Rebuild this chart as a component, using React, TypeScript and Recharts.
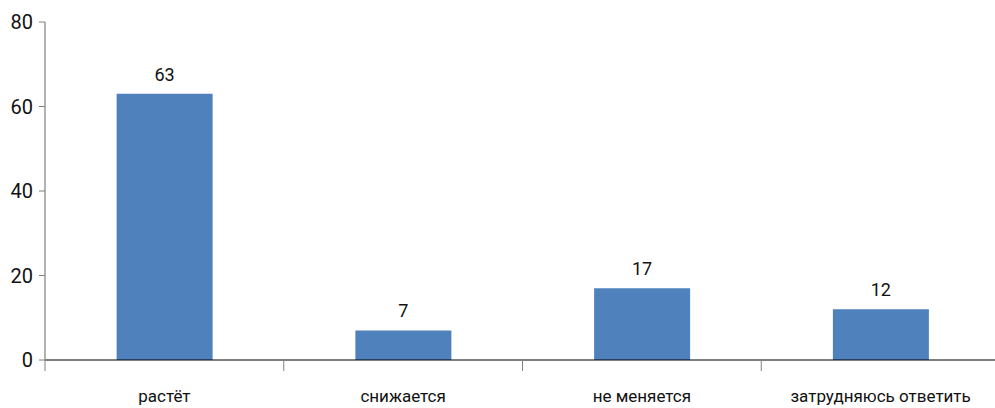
import React from 'react'
import { BarChart, Bar, XAxis, YAxis, LabelList } from 'recharts'

const categories = ['растёт', 'снижается', 'не меняется', 'затрудняюсь ответить']
const values = [63, 7, 17, 12]
const yTicks = [0, 20, 40, 60, 80]

const data = categories.map((name, i) => ({ name, value: values[i] }))

const FONT = 'Roboto, "Noto Sans", sans-serif'

function CategoryTick(props: any) {
  const { x, y, payload, width, visibleTicksCount } = props
  const band = width / (visibleTicksCount || categories.length)
  const left = x - band / 2
  return (
    <g>
      <line x1={left} y1={y - 8} x2={left} y2={y + 3} stroke="#808080" strokeWidth={1} />
      <text x={x} y={y + 34} textAnchor="middle" fill="#111" fontSize={17} fontFamily={FONT}>
        {payload.value}
      </text>
    </g>
  )
}

export default function App() {
  return (
    <div style={{ position: 'absolute', left: 0, top: 0, width: 995, height: 408, overflow: 'hidden', background: '#fff' }}>
      <BarChart
        width={1000}
        height={408}
        data={data}
        margin={{ top: 22, right: 0, bottom: 0, left: 0 }}
        barCategoryGap="30%"
      >
        <XAxis
          dataKey="name"
          axisLine={{ stroke: '#000', strokeWidth: 1.2 }}
          tickLine={false}
          tick={<CategoryTick />}
          interval={0}
          height={48}
        />
        <YAxis
          domain={[0, 80]}
          ticks={yTicks}
          width={45}
          axisLine={{ stroke: '#808080', strokeWidth: 1.2 }}
          tickLine={{ stroke: '#808080' }}
          tickSize={6}
          tick={{ fill: '#111', fontSize: 20, fontFamily: FONT }}
          tickMargin={6}
        />
        <Bar dataKey="value" fill="#4f81bd" isAnimationActive={false}>
          <LabelList
            dataKey="value"
            position="top"
            offset={13}
            fill="#111"
            fontSize={18}
            fontFamily={FONT}
          />
        </Bar>
      </BarChart>
    </div>
  )
}
